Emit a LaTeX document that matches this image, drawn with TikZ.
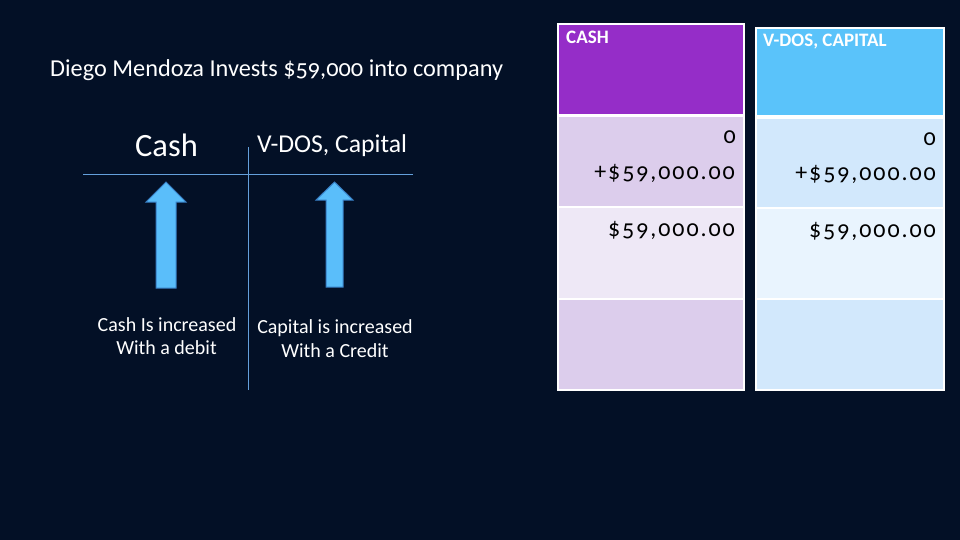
\documentclass[tikz,border=0pt]{standalone}
\usepackage{fontspec}
\setmainfont{Carlito}[Numbers=OldStyle]
\newfontfamily\numfont{Carlito}[Numbers=OldStyle, LetterSpace=8]
\definecolor{bgc}{RGB}{3,16,38}
\definecolor{tline}{RGB}{100,160,220}
\definecolor{arrfill}{RGB}{90,190,250}
\definecolor{arrdraw}{RGB}{55,125,195}
\definecolor{purphead}{RGB}{149,45,200}
\definecolor{purpA}{RGB}{220,205,236}
\definecolor{purpB}{RGB}{238,232,246}
\definecolor{bluehead}{RGB}{90,195,250}
\definecolor{blueA}{RGB}{210,232,252}
\definecolor{blueB}{RGB}{233,244,254}
\tikzset{
  txt/.style={inner sep=0pt, text=white},
  num/.style={inner sep=0pt, text=black, font=\numfont\fontsize{24}{26}\selectfont, anchor=base east},
  tline/.style={draw=tline, line width=0.9pt},
  blockarrow/.style={fill=arrfill, draw=arrdraw, line width=1pt},
  sub/.style={txt, anchor=base, font=\fontsize{20}{22}\selectfont},
  head/.style={txt, anchor=base west, font=\fontsize{19}{21}\selectfont\bfseries},
}
\begin{document}
\begin{tikzpicture}[x=1pt,y=-1pt]
\useasboundingbox (0,0) rectangle (960,540);
\fill[bgc] (0,0) rectangle (960,540);

% title
\node[txt, anchor=base west, font=\fontsize{24.3}{26}\selectfont] (title) at (50,77) {Diego Mendoza Invests \$59,000 into company};

% T account
\coordinate (hl) at (83,174);
\coordinate (hr) at (413,174);
\coordinate (vt) at (248,147);
\coordinate (vb) at (248,390);
\draw[tline] (hl) -- (hr);
\draw[tline] (vt) -- (vb);
\node[txt, anchor=base, font=\fontsize{32.5}{34}\selectfont] (cashlbl) at (166.5,157) {Cash};
\node[txt, anchor=base west, font=\fontsize{25.7}{28}\selectfont] (caplbl) at (257,153) {V-DOS, Capital};

% arrows
\draw[blockarrow] (166,182) -- (186,202) -- (176,202) -- (176,288) -- (156,288) -- (156,202) -- (146,202) -- cycle;
\draw[blockarrow] (334.5,182) -- (353,200) -- (343,200) -- (343,287) -- (326,287) -- (326,200) -- (316,200) -- cycle;

\node[sub] (cashinc) at (167,331) {Cash Is increased};
\node[sub] (cashdeb) at (166.5,354) {With a debit};
\node[sub] (capinc) at (335,333) {Capital is increased};
\node[sub] (capcred) at (335,357) {With a Credit};

% Cash table
\fill[white] (557,23) rectangle (745,391);
\fill[purphead] (559,25) rectangle (743,114);
\fill[purpA] (559,117) rectangle (743,206);
\fill[purpB] (559,208) rectangle (743,298);
\fill[purpA] (559,300) rectangle (743,389);
\node[head] (cashhead) at (566,44) {CASH};
\node[num] (c0) at (736,144) {0};
\node[num] (c1) at (735,179) {+\$59,000.00};
\node[num] (c2) at (735,236) {\$59,000.00};

% Capital table
\fill[white] (755,27) rectangle (945,391);
\fill[bluehead] (757,29) rectangle (943,115);
\fill[blueA] (757,119) rectangle (943,207);
\fill[blueB] (757,209) rectangle (943,298);
\fill[blueA] (757,300) rectangle (943,389);
\node[head] (caphead) at (763,47) {V-DOS, CAPITAL};
\node[num] (k0) at (936,146) {0};
\node[num] (k1) at (936,181) {+\$59,000.00};
\node[num] (k2) at (936,237) {\$59,000.00};
\end{tikzpicture}
\end{document}
